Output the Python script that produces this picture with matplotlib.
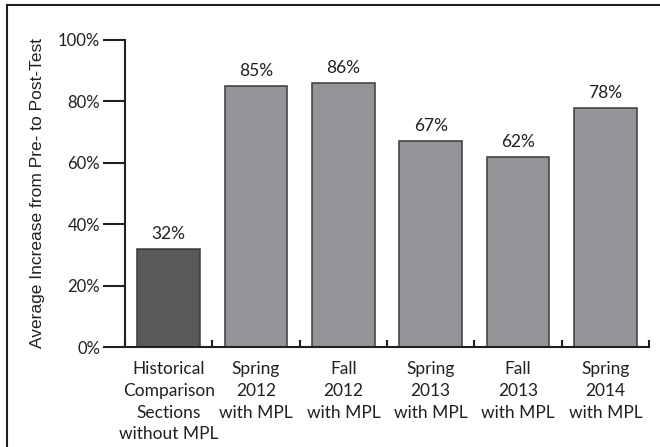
"""Bar chart: average pre- to post-test increase, with and without MPL."""

import matplotlib

matplotlib.use("Agg")

import matplotlib.pyplot as plt
from matplotlib.lines import Line2D
from matplotlib.ticker import FuncFormatter

categories = [
    "Historical\nComparison\nSections\nwithout MPL",
    "Spring\n2012\nwith MPL",
    "Fall\n2012\nwith MPL",
    "Spring\n2013\nwith MPL",
    "Fall\n2013\nwith MPL",
    "Spring\n2014\nwith MPL",
]
increase_pct = [32, 85, 86, 67, 62, 78]
bar_colors = ["#58595b", "#939598", "#939598", "#939598", "#939598", "#939598"]
y_ticks = [0, 20, 40, 60, 80, 100]

LABEL_FONT = "Lato"

fig = plt.figure(figsize=(6.6, 4.47), dpi=100)
ax = fig.add_axes([125 / 660, 1 - 347 / 447, 524 / 660, 307 / 447])

x = list(range(len(categories)))
bars = ax.bar(x, increase_pct, width=0.72, color=bar_colors,
              edgecolor="#3a3a3c", linewidth=1.1, zorder=2)
ax.bar_label(bars, labels=[f"{v}%" for v in increase_pct], padding=5,
             fontsize=12.5, family=LABEL_FONT, color="#231f20")

ax.set_xlim(-0.5, len(categories) - 0.5)
ax.set_ylim(0, 100)

for side in ("top", "right"):
    ax.spines[side].set_visible(False)
for side in ("left", "bottom"):
    ax.spines[side].set_linewidth(1.5)
    ax.spines[side].set_color("#231f20")

ax.set_yticks(y_ticks)
ax.yaxis.set_major_formatter(FuncFormatter(lambda v, _: f"{v:.0f}%"))
ax.tick_params(axis="y", length=16, width=1.5, pad=2, color="#231f20",
               labelsize=12, labelcolor="#231f20")

ax.set_xticks(x)
ax.set_xticklabels(categories, family=LABEL_FONT, fontsize=12.5,
                   color="#231f20", linespacing=1.45)
ax.tick_params(axis="x", which="major", length=0, pad=10)
ax.set_xticks([i + 0.5 for i in range(-1, len(categories))], minor=True)
ax.tick_params(axis="x", which="minor", direction="in", length=5, width=1.5,
               color="#231f20")

for lbl in ax.get_yticklabels():
    lbl.set_family(LABEL_FONT)

ax.set_ylabel("Average Increase from Pre- to Post-Test", family="Liberation Sans",
              fontsize=12.5, color="#231f20", labelpad=9)

# partial frame around the figure (left and top edges visible)
fig.add_artist(Line2D([7 / 660, 7 / 660], [0, 1 - 5 / 447],
                      transform=fig.transFigure, color="#231f20", linewidth=1.5))
fig.add_artist(Line2D([7 / 660, 1], [1 - 5 / 447, 1 - 5 / 447],
                      transform=fig.transFigure, color="#231f20", linewidth=1.5))

fig.savefig("out.png", dpi=100)
plt.close(fig)
